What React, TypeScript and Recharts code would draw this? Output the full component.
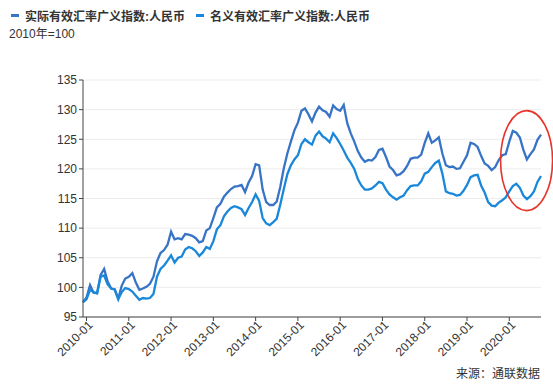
import { LineChart, Line, XAxis, YAxis, CartesianGrid, Legend, ReferenceDot } from "recharts";

// monthly, first point = 2009-12
const REAL = [
  97.5, 98.3, 100.4, 99.1, 99.0, 102.1, 103.1, 101.0, 99.8, 99.7, 98.1, 100.3, 101.5,
  101.8, 102.4, 100.8, 99.6, 99.8, 100.1, 100.6, 101.8, 104.4, 105.8, 106.3, 107.2,
  109.4, 108.1, 108.3, 108.1, 109.0, 108.9, 108.7, 108.3, 107.6, 107.8, 109.6, 110.0,
  111.7, 113.5, 114.1, 115.3, 116.0, 116.6, 117.0, 117.1, 117.3, 116.1, 117.7, 118.8,
  120.8, 120.6, 116.5, 114.4, 113.9, 113.9, 114.5, 117.0, 120.1, 122.6, 124.6, 126.5,
  127.8, 129.8, 130.2, 129.2, 128.0, 129.5, 130.5, 129.9, 129.6, 128.8, 130.7, 130.1,
  129.8, 130.8, 127.7, 126.0, 124.6, 123.0, 121.9, 121.2, 121.5, 121.4, 122.0, 123.2,
  123.4, 122.0, 120.4, 119.8, 118.9, 119.1, 119.6, 120.5, 121.7, 121.9, 121.9, 122.4,
  124.4, 126.0, 124.4, 124.8, 125.3, 122.6, 120.6, 120.3, 120.4, 120.0, 120.1, 121.2,
  122.3, 124.4, 124.2, 123.7, 122.2, 120.9, 120.5, 119.8, 120.3, 121.5, 122.3, 122.5,
  124.6, 126.4, 126.1, 125.3, 123.2, 121.6, 122.5, 123.3, 124.9, 125.8,
];

const NOMINAL = [
  97.5, 98.0, 99.6, 99.2, 99.0, 101.8, 102.0, 100.5, 99.8, 99.6, 98.0, 99.2, 99.9,
  99.7, 99.3, 98.6, 97.9, 98.2, 98.1, 98.2, 98.9, 101.8, 103.1, 103.7, 104.5,
  105.4, 104.2, 105.0, 105.2, 106.4, 106.8, 106.6, 106.1, 105.3, 105.9, 106.8, 106.5,
  107.8, 109.8, 110.5, 112.0, 112.8, 113.4, 113.7, 113.5, 113.2, 112.2, 113.4, 114.4,
  115.7, 114.6, 111.7, 110.8, 110.5, 111.0, 111.6, 114.0, 116.6, 119.1, 120.6, 121.6,
  122.3, 124.2, 125.0, 124.5, 124.1, 125.6, 126.3, 125.5, 125.1, 124.5, 126.0, 125.2,
  124.2, 123.1, 121.9, 121.0, 120.0, 118.3, 117.2, 116.5, 116.5, 116.7, 117.2, 117.8,
  117.6, 116.5, 115.7, 115.2, 114.8, 115.2, 115.5, 116.4, 117.1, 117.2, 117.2, 117.9,
  119.2, 119.5, 120.3, 121.0, 121.4, 119.2, 116.2, 115.9, 115.8, 115.5, 115.6, 116.3,
  117.3, 118.6, 118.9, 119.0, 117.2, 116.0, 114.4, 113.8, 113.7, 114.3, 114.7, 115.2,
  116.2, 117.1, 117.5, 116.8, 115.5, 114.9, 115.4, 116.2, 117.8, 118.8,
];

const TICK_YEARS = [2010, 2011, 2012, 2013, 2014, 2015, 2016, 2017, 2018, 2019, 2020];
const Y_TICKS = [95, 100, 105, 110, 115, 120, 125, 130, 135];

const SERIES = [
  { key: "real", name: "实际有效汇率广义指数:人民币", color: "#3874c6" },
  { key: "nominal", name: "名义有效汇率广义指数:人民币", color: "#1a88da" },
];

const FONT = "'Liberation Sans', 'Noto Sans CJK SC', sans-serif";

const data = REAL.map((v, i) => ({ m: i, real: v, nominal: NOMINAL[i] }));
const monthIndex = (year: number) => (year - 2010) * 12 + 1;
const yearOf = (m: number) => 2010 + Math.round((m - 1) / 12);

function RotatedTick({ x, y, payload }: any) {
  return (
    <g transform={`translate(${x + 4},${y})`}>
      <text x={0} y={0} dy={4} textAnchor="end" transform="rotate(-45)" fontSize={12} fill="#333" fontFamily={FONT}>
        {`${yearOf(payload.value)}-01`}
      </text>
    </g>
  );
}

function TopLegend() {
  return (
    <div style={{ fontFamily: FONT, color: "#333" }}>
      <div style={{ display: "flex", alignItems: "center", fontSize: 12, fontWeight: 600, height: 16 }}>
        {SERIES.map((s) => (
          <span key={s.key} style={{ display: "flex", alignItems: "center", marginRight: 11 }}>
            <span style={{ display: "inline-block", width: 8, height: 3, background: s.color, marginRight: 6 }} />
            {s.name}
          </span>
        ))}
      </div>
      <div style={{ fontSize: 12, marginTop: 1, marginLeft: -2 }}>2010年=100</div>
    </div>
  );
}

const Ring = ({ cx, cy }: any) => (
  <ellipse cx={cx} cy={cy} rx={26} ry={50} fill="none" stroke="#e8342b" strokeWidth={1.6} />
);

export default function App() {
  return (
    <div style={{ position: "absolute", left: 0, top: 0, width: 553, height: 389, background: "#fff", overflow: "hidden" }}>
      <LineChart width={553} height={389} data={data} margin={{ top: 46, right: 12, bottom: 12, left: 23 }}>
        <CartesianGrid vertical={false} stroke="#ececec" />
        <XAxis
          type="number"
          dataKey="m"
          domain={[0, REAL.length - 1]}
          ticks={TICK_YEARS.map(monthIndex)}
          interval={0}
          height={60}
          tickSize={4}
          tick={<RotatedTick />}
          axisLine={{ stroke: "#444" }}
          tickLine={{ stroke: "#444" }}
        />
        <YAxis
          width={60}
          domain={[95, 135]}
          ticks={Y_TICKS}
          interval={0}
          tickSize={4}
          tick={{ fontSize: 12, fill: "#333", fontFamily: FONT }}
          axisLine={{ stroke: "#444" }}
          tickLine={{ stroke: "#444" }}
        />
        <Legend verticalAlign="top" align="left" wrapperStyle={{ top: 7, left: 11 }} content={<TopLegend />} />
        {SERIES.map((s) => (
          <Line key={s.key} type="linear" dataKey={s.key} name={s.name} stroke={s.color} strokeWidth={2.3} dot={false} isAnimationActive={false} />
        ))}
        <ReferenceDot x={125.9} y={121.4} ifOverflow="visible" shape={<Ring />} />
      </LineChart>
      <div style={{ position: "absolute", right: 13, top: 364, fontSize: 12, fontFamily: FONT, color: "#333" }}>来源：通联数据</div>
    </div>
  );
}
